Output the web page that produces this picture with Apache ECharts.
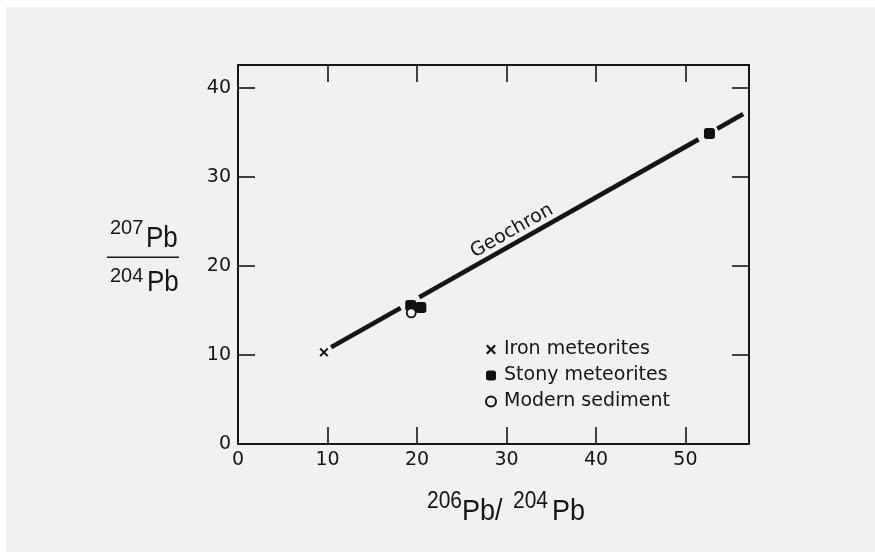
<!DOCTYPE html>
<html>
<head>
<meta charset="utf-8">
<script src="https://cdn.jsdelivr.net/npm/echarts@6/dist/echarts.min.js"></script>
<style>
html,body{margin:0;padding:0;background:#fff;}
#c{width:875px;height:552px;}
</style>
</head>
<body>
<div id="c"></div>
<script>
// ---- data ----
const xTickValues = [10, 20, 30, 40, 50];
const xLabelValues = [0, 10, 20, 30, 40, 50];
const yTickValues = [10, 20, 30, 40];
const yLabelValues = [0, 10, 20, 30, 40];
const xMax = 57.1;
const yMax = 42.6;

const ironMeteorites = [[9.6, 10.3]];
const stonyMeteorites = [[19.3, 15.58], [20.43, 15.33], [52.68, 34.9]];
const modernSediment = [[19.36, 14.74]];

// Geochron line, drawn broken around the data markers
const geochronSegments = [
  [[10.4, 10.88], [18.17, 15.30]],
  [[20.26, 16.49], [51.46, 34.24]],
  [[53.55, 35.43], [56.45, 37.08]]
];
const geochronLabel = [[30.6, 23.95]];
const geochronName = 'Geochron';

const seriesNames = ['Iron meteorites', 'Stony meteorites', 'Modern sediment'];

// ---- styling ----
const INK = '#161616';
const BG = '#f0f1f3';
const TICK_FONT = 'DejaVu Sans';
const NAME_FONT = 'Liberation Sans';
const X_PATH = 'path://M0,1.6L1.6,0L5,3.4L8.4,0L10,1.6L6.6,5L10,8.4L8.4,10L5,6.6L1.6,10L0,8.4L3.4,5Z';

function axisBase(showLabels, tickVals, labelVals, min, max) {
  return {
    type: 'value', min: min, max: max, interval: 10,
    axisLine: { show: true, onZero: false, lineStyle: { color: INK, width: 2 } },
    axisTick: { show: true, inside: true, length: 17, customValues: tickVals,
      lineStyle: { color: INK, width: 1.6 } },
    axisLabel: { show: showLabels, customValues: labelVals, color: INK,
      fontFamily: TICK_FONT, fontSize: 19 },
    splitLine: { show: false }
  };
}

const xBottom = axisBase(true, xTickValues, xLabelValues, 0, xMax);
xBottom.position = 'bottom';
xBottom.axisLabel.margin = 7;
const xTop = axisBase(false, xTickValues, xLabelValues, 0, xMax);
xTop.position = 'top';
const yLeft = axisBase(true, yTickValues, yLabelValues, 0, yMax);
yLeft.position = 'left';
yLeft.axisLabel.margin = 7;
const yRight = axisBase(false, yTickValues, yLabelValues, 0, yMax);
yRight.position = 'right';

const lineSeries = geochronSegments.map(seg => ({
  type: 'line', data: seg, showSymbol: false, symbol: 'none', silent: true, z: 2,
  lineStyle: { color: INK, width: 4.6, cap: 'butt', opacity: 1 }
}));

function txt(text, x, y, size, sy) {
  return { type: 'text', x: x, y: y, scaleY: sy || 1, silent: true,
    style: { text: text, fill: INK, font: size + 'px "' + NAME_FONT + '"',
      align: 'left', verticalAlign: 'middle' } };
}

const chart = echarts.init(document.getElementById('c'), null, { renderer: 'canvas' });
chart.setOption({
  animation: false,
  backgroundColor: BG,
  textStyle: { fontFamily: TICK_FONT },
  grid: { left: 238, right: 126, top: 65, bottom: 108, containLabel: false, outerBoundsMode: 'none' },
  xAxis: [xBottom, xTop],
  yAxis: [yLeft, yRight],
  legend: {
    orient: 'vertical', left: 480, top: 335, padding: 5, itemWidth: 10, itemHeight: 10, itemGap: 7,
    selectedMode: false,
    textStyle: { fontFamily: TICK_FONT, fontSize: 19, color: INK, padding: [0, 0, 0, 3] },
    data: [
      { name: seriesNames[0], icon: X_PATH },
      { name: seriesNames[1], icon: 'roundRect' },
      { name: seriesNames[2], icon: 'circle' }
    ]
  },
  series: lineSeries.concat([
    { name: seriesNames[0], type: 'scatter', data: ironMeteorites, symbol: X_PATH,
      symbolSize: 9, z: 3, itemStyle: { color: INK, opacity: 1 } },
    { name: seriesNames[1], type: 'scatter', data: stonyMeteorites, symbol: 'roundRect',
      symbolSize: 11, z: 3, itemStyle: { color: '#111', opacity: 1 } },
    { name: seriesNames[2], type: 'scatter', data: modernSediment, symbol: 'circle',
      symbolSize: 9, z: 4, itemStyle: { color: BG, borderColor: '#111', borderWidth: 1.8, opacity: 1 } },
    { type: 'scatter', data: geochronLabel, symbolSize: 0, silent: true, z: 5,
      itemStyle: { color: 'transparent', opacity: 1 },
      label: { show: true, position: 'inside', formatter: geochronName, rotate: 29.45,
        fontFamily: TICK_FONT, fontSize: 19, color: INK, opacity: 1 } }
  ]),
  graphic: [
    { type: 'rect', shape: { x: 0, y: 0, width: 875, height: 7 }, style: { fill: '#fff' }, silent: true },
    { type: 'rect', shape: { x: 0, y: 0, width: 6, height: 552 }, style: { fill: '#fff' }, silent: true },
    // y-axis title: 207Pb / 204Pb as a fraction
    txt('207', 110, 228, 20, 1.05),
    txt('Pb', 146, 239, 26, 1.15),
    { type: 'line', silent: true, shape: { x1: 107, y1: 257.3, x2: 179, y2: 257.3 },
      style: { stroke: INK, lineWidth: 1.5 } },
    txt('204', 110, 276.5, 20, 1.05),
    txt('Pb', 147, 283, 26, 1.15),
    // x-axis title: 206Pb/ 204Pb
    txt('206', 427, 501.5, 21, 1.1),
    txt('Pb/', 462, 512, 27, 1.1),
    txt('204', 513, 501.5, 21, 1.1),
    txt('Pb', 552, 512, 27, 1.1)
  ]
});
</script>
</body>
</html>
